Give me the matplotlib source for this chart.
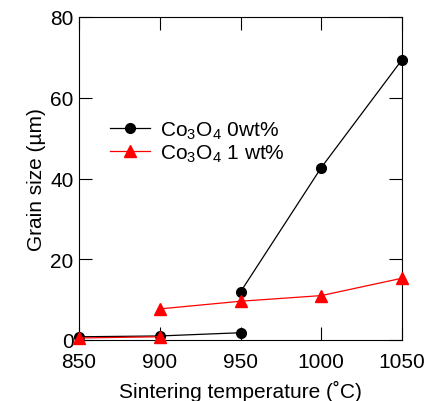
import matplotlib
matplotlib.use('Agg')
import matplotlib.pyplot as plt

plt.rcParams['font.family'] = ['Liberation Sans', 'DejaVu Sans']
plt.rcParams['mathtext.fontset'] = 'custom'
plt.rcParams['mathtext.rm'] = 'Liberation Sans'

# sintering temperature (C)
temp_low = [850, 900, 950]
temp_high = [950, 1000, 1050]
temp_red_low = [850, 900]
temp_red_high = [900, 950, 1000, 1050]

# grain size (um)
co0_low = [0.8, 1.0, 1.8]
co0_high = [11.9, 42.7, 69.4]
co1_low = [0.5, 0.8]
co1_high = [7.7, 9.6, 11.0, 15.3]

fig = plt.figure(figsize=(4.26, 4.02), dpi=100)
ax = fig.add_axes([79/426, 1 - 341/402, 323/426, 323/402])

ax.plot(temp_low, co0_low, 'k-o', lw=0.9, ms=7, clip_on=False, zorder=3)
ax.plot(temp_high, co0_high, 'k-o', lw=0.9, ms=7, clip_on=False, zorder=3,
        label='Co$_3$O$_4$ 0wt%')
ax.plot(temp_red_low, co1_low, '-^', color='red', lw=0.9, ms=8, clip_on=False, zorder=4)
ax.plot(temp_red_high, co1_high, '-^', color='red', lw=0.9, ms=8, clip_on=False, zorder=4,
        label='Co$_3$O$_4$ 1 wt%')

ax.set_xlim(850, 1050)
ax.set_ylim(0, 80)
ax.set_xticks([850, 900, 950, 1000, 1050])
ax.set_yticks([0, 20, 40, 60, 80])
ax.tick_params(direction='in', length=9.5, width=0.8, top=True, right=True,
               labelsize=15)
ax.tick_params(axis='x', pad=9)
ax.tick_params(axis='y', pad=4)
for s in ax.spines.values():
    s.set_linewidth(0.8)

ax.set_xlabel('Sintering temperature (˚C)', fontsize=15, labelpad=6)
ax.set_ylabel('Grain size (µm)', fontsize=15, labelpad=3)

ax.legend(loc='upper left', bbox_to_anchor=(0.07, 0.71), frameon=False,
          fontsize=15, handlelength=1.9, handletextpad=0.5, labelspacing=0.1,
          borderaxespad=0)

fig.savefig('out.png', dpi=100)
